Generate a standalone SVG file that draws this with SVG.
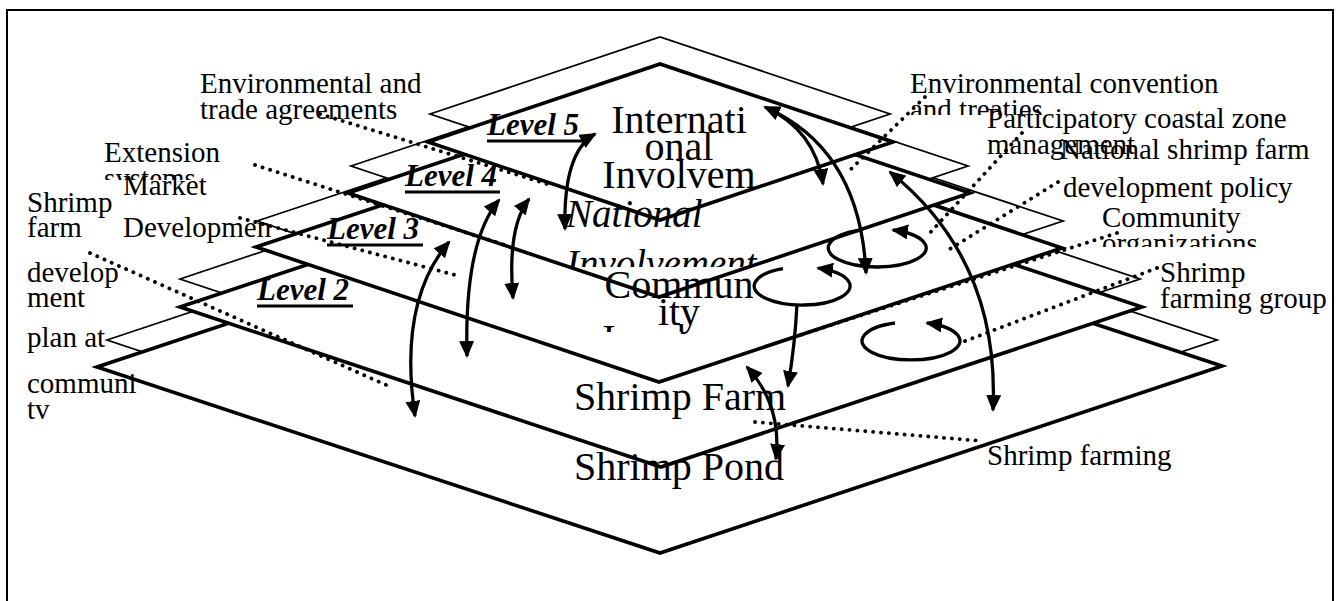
<svg xmlns="http://www.w3.org/2000/svg" width="1340" height="601" viewBox="0 0 1340 601">
<style>
.thin{fill:#fff;stroke:#000;stroke-width:1.8;stroke-linejoin:miter}
.thick{fill:#fff;stroke:#000;stroke-width:3.6;stroke-linejoin:miter}
.ann{font-family:"Liberation Serif","Times New Roman",serif;font-size:29px;fill:#000}
.bigc{font-family:"Liberation Serif","Times New Roman",serif;font-size:40px;fill:#000;text-anchor:middle}
.ital{font-family:"Liberation Serif","Times New Roman",serif;font-size:39px;font-style:italic;fill:#000}
.lvl{font-family:"Liberation Serif","Times New Roman",serif;font-size:31px;font-style:italic;font-weight:bold;fill:#000}
.ul{stroke:#000;stroke-width:3}
.dot{fill:none;stroke:#000;stroke-width:3.8;stroke-linecap:round;stroke-dasharray:0.1 7.8}
.arr{fill:none;stroke:#000;stroke-width:3.3}
</style>
<defs>
<marker id="ah" viewBox="0 0 17 15" refX="15" refY="7.5" markerWidth="17" markerHeight="15" markerUnits="userSpaceOnUse" orient="auto-start-reverse">
<path d="M0,0 L17,7.5 L0,15 z" fill="#000"/>
</marker>
<clipPath id="cSys"><rect x="0" y="0" width="400" height="180"/></clipPath>
<clipPath id="cTre"><rect x="880" y="0" width="400" height="115"/></clipPath>
<clipPath id="cOrg"><rect x="1080" y="0" width="250" height="247"/></clipPath>
<clipPath id="cInv"><rect x="540" y="230" width="260" height="37"/></clipPath>
<clipPath id="cInv2"><rect x="580" y="300" width="200" height="32"/></clipPath>
</defs>
<rect x="7" y="10" width="1326" height="610" fill="#fff" stroke="#000" stroke-width="2"/>

<g id="level1">
<polygon class="thin" points="107,340 662,155 1217,340 662,525"/>
<polygon class="thick" points="97,367 660,180 1222,366 660,553"/>
</g>
<g id="level2">
<polygon class="thin" points="180,279 660,119 1140,279 660,439"/>
<polygon class="thick" points="180,307 661,147 1142,307 661,467"/>
</g>
<g id="level3">
<polygon class="thin" points="257,221 660,87 1063,221 660,355"/>
<polygon class="thick" points="256,247 659,113 1062,248 659,382"/>
</g>
<g id="level4">
<polygon class="thin" points="351,166 659,63 968,166 659,269"/>
<polygon class="thick" points="348,193 659,89 970,193 659,297"/>
</g>
<g id="level5">
<polygon class="thin" points="430,114 660,37 890,114 660,191"/>
<polygon class="thick" points="428,142 660,64 893,142 660,220"/>
</g>

<g id="layer-labels">
<text class="bigc" x="679" y="133">Internati</text>
<text class="bigc" x="679" y="160">onal</text>
<text class="bigc" x="679" y="188">Involvem</text>
<text class="ital" x="566" y="227">National</text>
<text class="ital" x="566" y="277" clip-path="url(#cInv)">Involvement</text>
<text class="bigc" x="679" y="298">Commun</text>
<text class="bigc" x="679" y="325">ity</text>
<text class="bigc" x="679" y="352" clip-path="url(#cInv2)">Involvem</text>
<text class="bigc" x="680" y="410">Shrimp Farm</text>
<text class="bigc" x="679" y="480">Shrimp Pond</text>
</g>

<g id="level-tags">
<text class="lvl" x="487" y="135">Level 5</text>
<line class="ul" x1="487" y1="141" x2="583" y2="141"/>
<text class="lvl" x="405" y="186">Level 4</text>
<line class="ul" x1="405" y1="192" x2="500" y2="192"/>
<text class="lvl" x="327" y="239">Level 3</text>
<line class="ul" x1="327" y1="245" x2="423" y2="245"/>
<text class="lvl" x="257" y="300">Level 2</text>
<line class="ul" x1="257" y1="306" x2="353" y2="306"/>
</g>

<g id="annotations-left">
<text class="ann" x="200" y="93">Environmental and</text>
<text class="ann" x="200" y="119">trade agreements</text>
<text class="ann" x="104" y="162">Extension</text>
<text class="ann" x="104" y="188" clip-path="url(#cSys)">systems</text>
<text class="ann" x="123" y="195">Market</text>
<text class="ann" x="123" y="237">Developmen</text>
<text class="ann" x="27" y="212">Shrimp</text>
<text class="ann" x="27" y="237">farm</text>
<text class="ann" x="27" y="282">develop</text>
<text class="ann" x="27" y="307">ment</text>
<text class="ann" x="27" y="347">plan at</text>
<text class="ann" x="27" y="393">communi</text>
<text class="ann" x="27" y="419">tv</text>
</g>

<g id="annotations-right">
<text class="ann" x="910" y="93">Environmental convention</text>
<text class="ann" x="910" y="119" clip-path="url(#cTre)">and treaties</text>
<text class="ann" x="987" y="128">Participatory coastal zone</text>
<text class="ann" x="987" y="154">management</text>
<text class="ann" x="1060" y="159">National shrimp farm</text>
<text class="ann" x="1063" y="197">development policy</text>
<text class="ann" x="1102" y="227">Community</text>
<text class="ann" x="1102" y="253" clip-path="url(#cOrg)">organizations</text>
<text class="ann" x="1160" y="282">Shrimp</text>
<text class="ann" x="1160" y="308">farming group</text>
<text class="ann" x="987" y="465">Shrimp farming</text>
</g>

<g id="connectors">
<path class="dot" d="M320,114 L547,184"/>
<path class="dot" d="M255,165 L505,245"/>
<path class="dot" d="M240,218 L455,275"/>
<path class="dot" d="M90,253 L393,388"/>
<path class="dot" d="M925,97 L848,172"/>
<path class="dot" d="M1022,133 L928,235"/>
<path class="dot" d="M1058,182 L945,252"/>
<path class="dot" d="M1117,233 L797,336"/>
<path class="dot" d="M1157,268 L960,343"/>
<path class="dot" d="M755,422 L982,441"/>

<path class="arr" d="M595,134 Q563,152 565,229" marker-start="url(#ah)" marker-end="url(#ah)"/>
<path class="arr" d="M499,200 Q464,242 467,356" marker-start="url(#ah)" marker-end="url(#ah)"/>
<path class="arr" d="M529,199 Q507,227 513,298" marker-start="url(#ah)" marker-end="url(#ah)"/>
<path class="arr" d="M449,242 Q398,302 415,416" marker-start="url(#ah)" marker-end="url(#ah)"/>
<path class="arr" d="M767,108 Q860,150 866,273" marker-end="url(#ah)"/>
<path class="arr" d="M765,107 Q815,130 823,184" marker-start="url(#ah)" marker-end="url(#ah)"/>
<path class="arr" d="M890,172 Q1000,260 993,410" marker-start="url(#ah)" marker-end="url(#ah)"/>
<path class="arr" d="M797,304 Q795,345 788,386" marker-end="url(#ah)"/>
<path class="arr" d="M747,367 Q782,405 776,459" marker-start="url(#ah)" marker-end="url(#ah)"/>

<path class="arr" d="M860,230.2 A49,19 0 1,0 893,230" marker-end="url(#ah)"/>
<path class="arr" d="M783,268.6 A48,19 0 1,0 818,268.1" marker-end="url(#ah)"/>
<path class="arr" d="M895,323 A49,19 0 1,0 927,323" marker-end="url(#ah)"/>
</g>
</svg>
